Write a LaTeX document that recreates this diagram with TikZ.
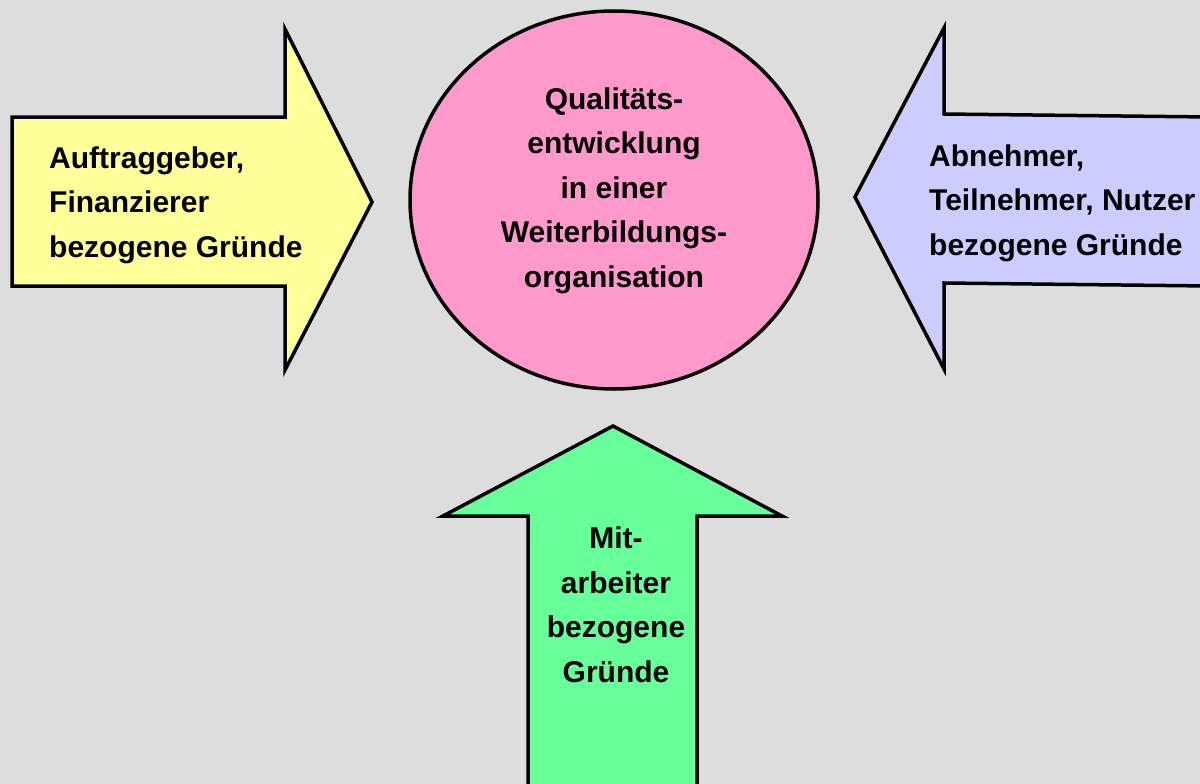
\documentclass[tikz,border=0pt]{standalone}
\usepackage{fontspec}
\setmainfont{Liberation Sans}
\usetikzlibrary{shapes.geometric}
\begin{document}
\begin{tikzpicture}[x=1pt,y=-1pt,
  shape outline/.style={draw=black,line width=3.5pt,line join=miter},
  lbl/.style={font=\fontsize{30}{44.5}\selectfont\bfseries,inner sep=0pt,text=black}]
\definecolor{bggray}{HTML}{DDDDDD}
\definecolor{yel}{HTML}{FFFF99}
\definecolor{pnk}{HTML}{FF99CC}
\definecolor{lav}{HTML}{CCCCFF}
\definecolor{grn}{HTML}{66FF99}
\fill[bggray] (0,0) rectangle (1200,784);
\useasboundingbox (0,0) rectangle (1200,784);
% left arrow
\draw[shape outline,fill=yel] (12,117) -- (285,117) -- (285,29) -- (372,202) -- (285,370) -- (285,286) -- (12,286) -- cycle;
% right arrow
\draw[shape outline,fill=lav] (1210,117) -- (944,114) -- (944,28) -- (855,197) -- (944,369) -- (944,283) -- (1210,286) -- cycle;
% bottom arrow
\draw[shape outline,fill=grn] (613,426) -- (782,516) -- (697,516) -- (697,795) -- (528,795) -- (528,516) -- (443,516) -- cycle;
% circle
\node[shape outline,fill=pnk,ellipse,minimum width=408pt,minimum height=378pt,inner sep=0pt] (center) at (614,200) {};
\node[lbl,align=center,anchor=base] (ctext) at (614,287) {Qualitäts-\\entwicklung\\in einer\\Weiterbildungs-\\organisation};
\node[lbl,align=left,anchor=base west] (ltext) at (49,257) {Auftraggeber,\\Finanzierer\\bezogene Gründe};
\node[lbl,align=left,anchor=base west] (rtext) at (929,255) {Abnehmer,\\Teilnehmer, Nutzer\\bezogene Gründe};
\node[lbl,align=center,anchor=base] (btext) at (616,682) {Mit-\\arbeiter\\bezogene\\Gründe};
\end{tikzpicture}
\end{document}
